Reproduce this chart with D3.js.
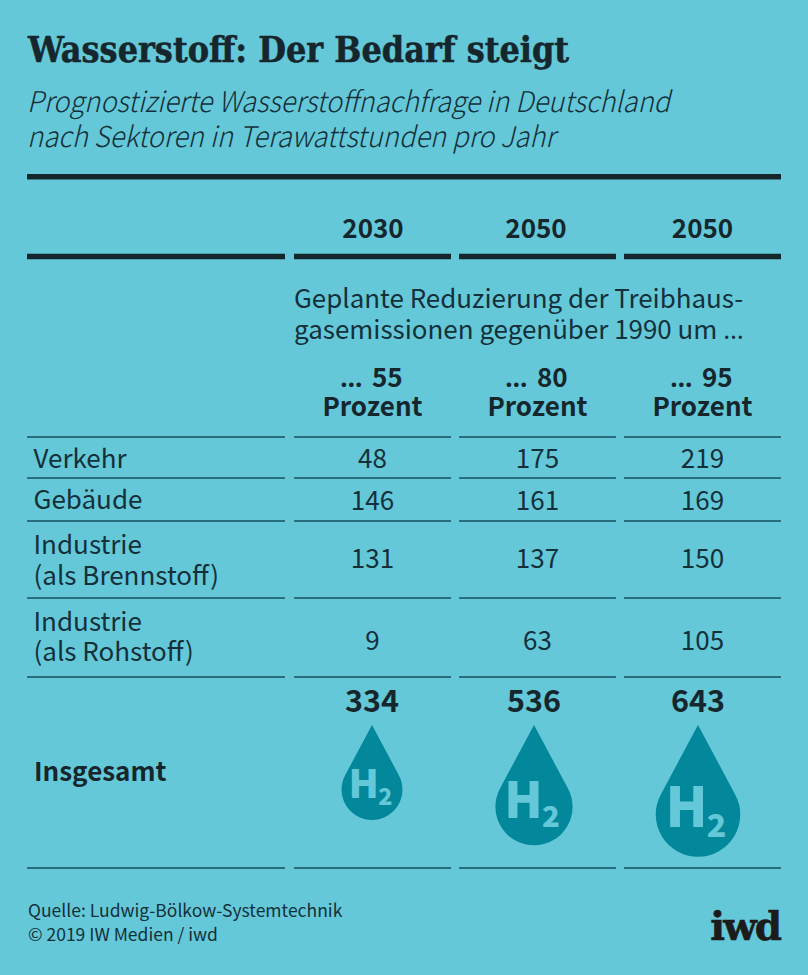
<!DOCTYPE html>
<html><head><meta charset="utf-8">
<script src="https://cdn.jsdelivr.net/npm/d3@7"></script>
<style>html,body{margin:0;padding:0;background:#64c8d8}svg{display:block}text{font-family:"Noto Sans CJK SC","Noto Sans",sans-serif;fill:#14303a}</style>
</head><body><div id="c"></div>
<script>
const title="Wasserstoff: Der Bedarf steigt";
const subtitle=["Prognostizierte Wasserstoffnachfrage in Deutschland","nach Sektoren in Terawattstunden pro Jahr"];
const subtitleLen=[643,528];
const years=["2030","2050","2050"];
const noteLines=["Geplante Reduzierung der Treibhaus-","gasemissionen gegenüber 1990 um …"];
const scenarios=["… 55","… 80","… 95"];
const scenarioUnit="Prozent";
const sectors=[["Verkehr"],["Gebäude"],["Industrie","(als Brennstoff)"],["Industrie","(als Rohstoff)"]];
const v2030=[48,146,131,9];
const v2050a=[175,161,137,63];
const v2050b=[219,169,150,105];
const totals=[334,536,643];
const totalLabel="Insgesamt";
const source=["Quelle: Ludwig-Bölkow-Systemtechnik","© 2019 IW Medien / iwd"];
const logo="iwd";

const W=808,H=975,ink="#16262d",line="#14505f",bg="#64c8d8";
const svg=d3.select("#c").append("svg").attr("width",W).attr("height",H);
svg.append("rect").attr("width",W).attr("height",H).attr("fill",bg);
const text=(x,y,s,size,o={})=>{
  const t=svg.append("text").attr("x",x).attr("y",y)
  .attr("font-size",size).attr("text-anchor",o.a||"start").attr("font-weight",o.w||400)
  .attr("font-style",o.i?"italic":null).style("fill",o.c||"#14303a").style("font-family",o.f||null);
  String(s).split(/(…)/).filter(d=>d!=="").forEach(part=>{
    const sp=t.append("tspan").text(part);
    if(part==="…") sp.style("font-family",'"Noto Sans",sans-serif').attr("letter-spacing",o.dots||2.5);
  });
  return t;
};

const colX=d3.scaleOrdinal().domain([0,1,2]).range([294,459,624]);
const colW=157;
const cx=i=>colX(i)+colW/2;
const rule=(y,h,c)=>{
  svg.append("rect").attr("x",27).attr("width",258).attr("y",y-h/2).attr("height",h).attr("fill",c);
  [0,1,2].forEach(i=>svg.append("rect").attr("x",colX(i)).attr("width",colW).attr("y",y-h/2).attr("height",h).attr("fill",c));
};

text(28,62,title,35.6,{w:700,c:ink,f:'"DejaVu Serif Condensed","DejaVu Serif",serif'}).attr("stroke",ink).attr("stroke-width",0.5);
subtitle.forEach((s,i)=>text(27,112+i*34.5,s,28.6,{i:1,w:300}).attr("textLength",subtitleLen[i]).attr("lengthAdjust","spacingAndGlyphs"));
svg.append("rect").attr("x",27).attr("y",174).attr("width",754).attr("height",5.5).attr("fill",ink);

const yearX=[373,536,702.5];
years.forEach((y,i)=>text(yearX[i],238,y,26,{a:"middle",w:700,c:ink}));
rule(256.5,5.5,ink);
noteLines.forEach((s,i)=>text(294,308+i*31,s,25.95,{dots:4}));
scenarios.forEach((s,i)=>{
  text(cx(i)-1,387,s,26,{a:"middle",w:700,c:ink,dots:3.5});
  text(cx(i),416,scenarioUnit,26,{a:"middle",w:700,c:ink});
});

const rowY=[437,478,521,598,677];
const labelY=[[468],[509],[554,585],[631,661]];
const valueY=[468,510,568,650];
const series=[v2030,v2050a,v2050b];
rowY.forEach(y=>rule(y,1.5,line));
sectors.forEach((lab,r)=>{
  lab.forEach((s,j)=>text(33.5,labelY[r][j],s,26));
  series.forEach((vals,c)=>text(cx(c),valueY[r],vals[r],26,{a:"middle"}));
});
rule(868,1.5,line);

text(34,781,totalLabel,26,{w:700,c:ink});
const dropX=[372,534,698];
const widthScale=d3.scaleSqrt().domain([0,643]).range([0,84.5]);
const tipY=725;
totals.forEach((t,i)=>{
  text(dropX[i],712,t,30.5,{a:"middle",w:700,c:ink});
  const w=widthScale(t),r=w/2,h=w*1.56,x=dropX[i],b=tipY+h,cy=b-r;
  const th=Math.asin(r/(cy-tipY));
  const p=d3.path();
  p.moveTo(x,tipY);
  p.lineTo(x+r*Math.cos(th),cy-r*Math.sin(th));
  p.arc(x,cy,r,-th,Math.PI+th);
  p.closePath();
  svg.append("path").attr("d",p.toString()).attr("fill","#03879b");
  text(x-r*0.27,cy+r*0.29,"H",w*0.645,{a:"middle",w:900,c:bg});
  text(x+r*0.44,cy+r*0.52,"2",w*0.38,{a:"middle",w:900,c:bg});
});

source.forEach((s,i)=>text(28,917+i*23.5,s,17.5));
text(780,940,logo,39,{a:"end",w:900,c:"#1b1b1b",f:'"DejaVu Serif",serif'}).attr("letter-spacing",-2).attr("stroke","#1b1b1b").attr("stroke-width",0.6);
</script></body></html>
